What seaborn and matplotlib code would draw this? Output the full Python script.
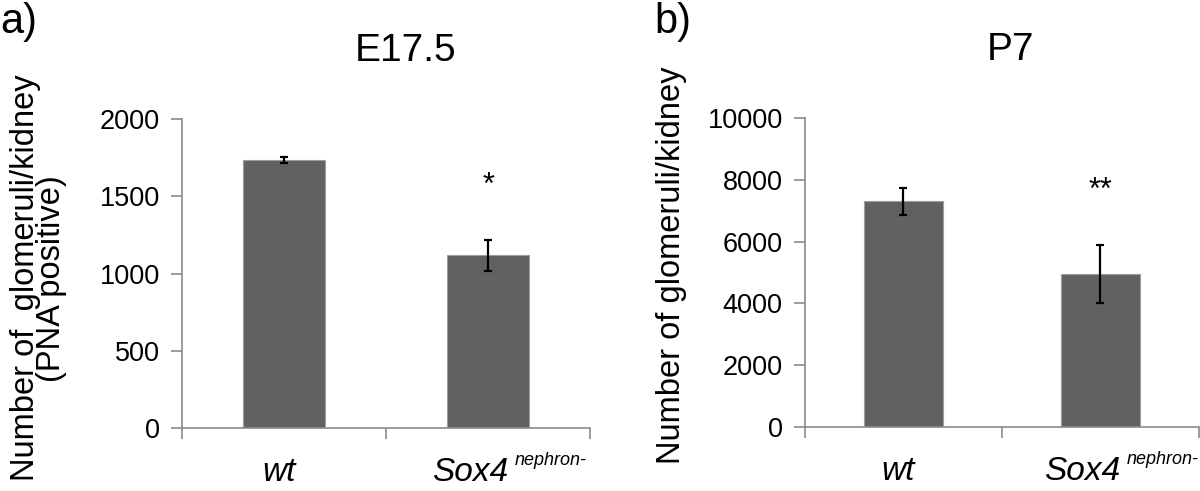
import numpy as np
import pandas as pd
import seaborn as sns
import matplotlib
matplotlib.use("Agg")
import matplotlib.pyplot as plt

# Data
groups = ["wt", "Sox4"]
e175_mean = [1735, 1118]
e175_err = [20, 100]
p7_mean = [7300, 4950]
p7_err = [430, 940]
e175_stars = ["", "*"]
p7_stars = ["", "**"]
superscripts = ["", "nephron-"]

sns.set_style("white")
plt.rcParams["font.family"] = ["Liberation Sans", "DejaVu Sans"]
plt.rcParams["text.color"] = "black"
plt.rcParams["axes.labelcolor"] = "black"
plt.rcParams["xtick.color"] = "black"
plt.rcParams["ytick.color"] = "black"

bar_color = "#616161"
axis_color = "#8a8a8a"

fig = plt.figure(figsize=(12, 4.91), dpi=100)
ax1 = fig.add_axes([0.1517, 0.1283, 0.34, 0.6293])
ax2 = fig.add_axes([0.6708, 0.1303, 0.328, 0.6293])

# horizontal shift (points) of each group label, to mimic the original layout
label_shift = [-3.5, -13]


def draw_panel(ax, means, errs, stars, ymax, step, title, ylabel, title_x):
    df = pd.DataFrame({"group": groups, "value": means})
    sns.barplot(data=df, x="group", y="value", color=bar_color, width=0.4,
                saturation=1, edgecolor="#9c9c9c", linewidth=0.8, ax=ax)
    ax.errorbar(range(len(means)), means, yerr=errs, fmt="none", ecolor="black",
                elinewidth=1.6, capsize=3, capthick=1.6)
    for i, s in enumerate(stars):
        if s:
            ax.text(i, means[i] + errs[i] + 0.175 * ymax, s, ha="center", va="center",
                    fontsize=22)
    ax.set_xlim(-0.5, 1.5)
    ax.set_ylim(0, ymax)
    ax.set_yticks(np.arange(0, ymax + 1, step))
    ax.set_xticks([-0.5, 0.5, 1.5])
    ax.set_xticklabels([])
    ax.tick_params(axis="x", length=8, width=1.2, color=axis_color,
                   direction="out", bottom=True)
    ax.tick_params(axis="y", length=8, width=1.2, color=axis_color, direction="out",
                   left=True, pad=8, labelsize=19.5)
    # group labels with superscript
    xt = ax.get_xaxis_transform()
    for i, g in enumerate(groups):
        ax.annotate(g, xy=(i, 0), xycoords=xt, xytext=(label_shift[i], -38),
                    textcoords="offset points", ha="center", va="baseline",
                    fontsize=24, style="italic", annotation_clip=False)
        if superscripts[i]:
            ax.annotate(superscripts[i], xy=(i, 0), xycoords=xt, xytext=(19, -26.5),
                        textcoords="offset points", ha="left", va="baseline",
                        fontsize=13, style="italic", annotation_clip=False)
    for side in ["top", "right"]:
        ax.spines[side].set_visible(False)
    for side in ["left", "bottom"]:
        ax.spines[side].set_color(axis_color)
        ax.spines[side].set_linewidth(1.2)
    ax.set_xlabel("")
    ax.set_ylabel(ylabel, fontsize=23.5, linespacing=0.8)
    ax.set_title(title, fontsize=28, pad=42, x=title_x)


draw_panel(ax1, e175_mean, e175_err, e175_stars, 2000, 500, "E17.5",
           "Number of  glomeruli/kidney\n(PNA positive)", 0.547)
draw_panel(ax2, p7_mean, p7_err, p7_stars, 10000, 2000, "P7",
           "Number of glomeruli/kidney", 0.523)
ax1.yaxis.set_label_coords(-0.282, 0.485)
ax2.yaxis.set_label_coords(-0.30, 0.524)

fig.text(0.0, 0.995, "a)", fontsize=30, va="top", ha="left")
fig.text(0.545, 0.995, "b)", fontsize=30, va="top", ha="left")

fig.savefig("out.png", dpi=100)
